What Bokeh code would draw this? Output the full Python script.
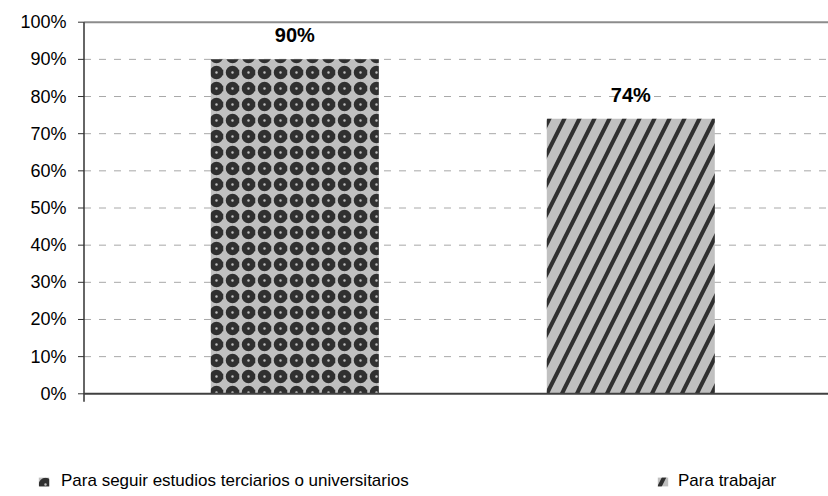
from bokeh.plotting import figure
from bokeh.models import Range1d, Legend, LegendItem, ColumnDataSource
from bokeh.core.properties import value
from bokeh.embed import file_html
from bokeh.resources import INLINE

# ---- data ----
categories = ["Para seguir estudios terciarios o universitarios", "Para trabajar"]
values = [90, 74]
value_labels = ["90%", "74%"]
y_ticks = [0, 10, 20, 30, 40, 50, 60, 70, 80, 90, 100]
y_tick_labels = ["0%", "10%", "20%", "30%", "40%", "50%", "60%", "70%", "80%", "90%", "100%"]
Y_MIN, Y_MAX = 0, 100

FONT = "Liberation Sans"

# ---- page geometry (pixels) ----
W, H = 828, 496
PX_X = 336.0                       # pixels per category step
PX_Y = 3.716                       # pixels per percentage point
X0_PX = 294.3                      # pixel position of the first category
Y0_PX = 393.3                      # pixel position of 0 %
AXIS_PX = 83.5                     # pixel position of the value axis

x_start = -X0_PX / PX_X
x_end = (W - X0_PX) / PX_X
y_end = Y0_PX / PX_Y
y_start = -(H - Y0_PX) / PX_Y
axis_x = (AXIS_PX - X0_PX) / PX_X

p = figure(width=W, height=H,
           x_range=Range1d(x_start, x_end), y_range=Range1d(y_start, y_end),
           output_backend="svg", toolbar_location=None,
           x_axis_location=None, y_axis_location=None, min_border=0)
p.outline_line_color = None
p.grid.visible = False

# ---- gridlines (dashed) and top border ----
grid_levels = [t for t in y_ticks if Y_MIN < t < Y_MAX]
p.segment(x0=[axis_x] * len(grid_levels), x1=[x_end] * len(grid_levels),
          y0=grid_levels, y1=grid_levels,
          line_color="#a8a8a8", line_width=1, line_dash="7 8")
p.segment(x0=[axis_x], x1=[x_end], y0=[Y_MAX], y1=[Y_MAX],
          line_color="#8c8c8c", line_width=2)

# ---- bars ----
styles = [
    dict(hatch_pattern="ring", hatch_scale=16, hatch_weight=5.5),
    dict(hatch_pattern="right_diagonal_line", hatch_scale=30, hatch_weight=4),
]
common = dict(fill_color="#c0c0c0", line_color=None, hatch_color="#303030")
renderers = []
for i, cat in enumerate(categories):
    src = ColumnDataSource(dict(x=[i], top=[values[i]]))
    r = p.vbar(x="x", top="top", width=0.5, bottom=Y_MIN, source=src, **common, **styles[i])
    renderers.append(r)

# ---- value labels ----
lab_src = ColumnDataSource(dict(x=list(range(len(categories))), y=values, t=value_labels))
p.text(x="x", y="y", text="t", source=lab_src, y_offset=-24,
       text_align="center", text_baseline="middle",
       text_font=value(FONT), text_font_style="bold", text_font_size="20px",
       text_color="black")

# ---- value axis: line, ticks, labels ----
tick_len = 6 / PX_X
p.segment(x0=[axis_x], x1=[axis_x], y0=[Y_MIN - 8 / PX_Y], y1=[Y_MAX],
          line_color="#333333", line_width=1.5)
p.segment(x0=[axis_x - tick_len] * len(y_ticks), x1=[axis_x] * len(y_ticks),
          y0=y_ticks, y1=y_ticks, line_color="#333333", line_width=1)
p.text(x=[axis_x] * len(y_ticks), y=y_ticks, text=y_tick_labels, x_offset=-17.5,
       text_align="right", text_baseline="middle",
       text_font=value(FONT), text_font_size="18px", text_color="black")

# ---- category axis line ----
p.segment(x0=[axis_x], x1=[x_end], y0=[Y_MIN], y1=[Y_MIN],
          line_color="#404040", line_width=2)

# ---- legend ----
leg_pos = [(37, 5), (656, 5)]
leg_standoff = [11, 9]
for i, cat in enumerate(categories):
    leg = Legend(items=[LegendItem(label=cat, renderers=[renderers[i]])],
                 location=leg_pos[i], orientation="horizontal",
                 padding=0, margin=0, border_line_color=None,
                 background_fill_alpha=0,
                 glyph_width=13, glyph_height=11, label_standoff=leg_standoff[i],
                 label_text_font=FONT, label_text_font_size="17px",
                 label_text_color="black", label_height=20)
    p.add_layout(leg, "center")

open("out.html", "w").write(file_html(p, INLINE))
